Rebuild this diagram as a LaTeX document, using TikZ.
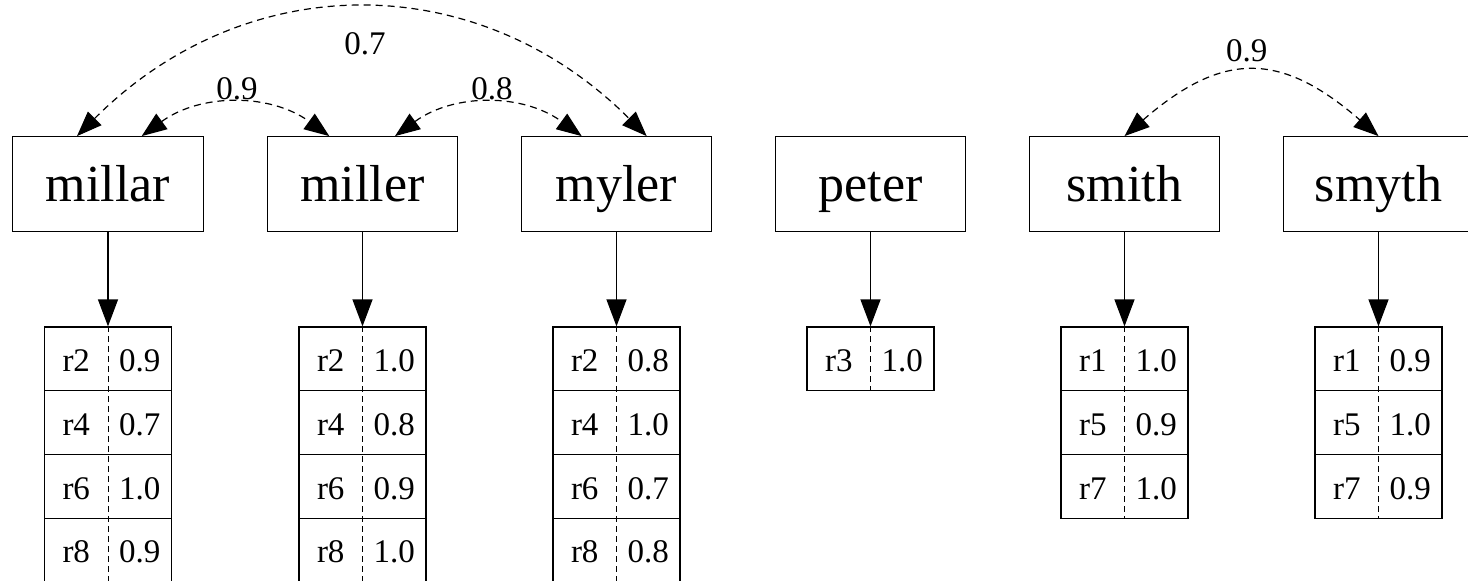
\documentclass[tikz,border=0pt]{standalone}
\usepackage{fontspec}
\setmainfont{Liberation Serif}
\usetikzlibrary{arrows.meta}
\newcommand{\rowpair}[2]{\makebox[63.5pt]{#1}\makebox[63.5pt]{#2}}

\begin{document}
\begin{tikzpicture}[x=1pt,y=-1pt,line width=1.2pt,
 word/.style={draw,minimum width=190.7pt,minimum height=95pt,inner sep=0pt,
   text height=40pt,text depth=5pt,font=\fontsize{52}{60}\selectfont},
 cell/.style={draw,minimum width=127pt,minimum height=63.7pt,inner sep=0pt,
   text height=28pt,text depth=2.3pt,font=\fontsize{33}{38}\selectfont},
 weight/.style={anchor=base,inner sep=0pt,font=\fontsize{33}{38}\selectfont},
 down/.style={-{Triangle[length=27pt,width=20pt]}},
 sim/.style={dash pattern=on 7pt off 5pt,
   {Triangle[length=25pt,width=19pt]}-{Triangle[length=25pt,width=19pt]}},
 divider/.style={line width=1pt,dash pattern=on 6pt off 4pt}]
 \useasboundingbox (0,0) rectangle (1468,581);
 \clip (0,0) rectangle (1468,581);

 % words
 \node[word] (millar) at (108,184.2) {millar};
 \node[word] (miller) at (362.5,184.2) {miller};
 \node[word] (myler) at (616.5,184.2) {myler};
 \node[word] (peter) at (870.5,184.2) {peter};
 \node[word] (smith) at (1124.5,184.2) {smith};
 \node[word] (smyth) at (1378.5,184.2) {smyth};

 % millar
 \node[cell] (millar1) at (108,358.85) {\rowpair{r2}{0.9}};
 \node[cell] (millar2) at (108,422.55) {\rowpair{r4}{0.7}};
 \node[cell] (millar3) at (108,486.25) {\rowpair{r6}{1.0}};
 \node[cell] (millar4) at (108,549.95) {\rowpair{r8}{0.9}};
 \draw[divider] (millar1.north) -- (millar4.south);
 % miller
 \node[cell] (miller1) at (362.5,358.85) {\rowpair{r2}{1.0}};
 \node[cell] (miller2) at (362.5,422.55) {\rowpair{r4}{0.8}};
 \node[cell] (miller3) at (362.5,486.25) {\rowpair{r6}{0.9}};
 \node[cell] (miller4) at (362.5,549.95) {\rowpair{r8}{1.0}};
 \draw[divider] (miller1.north) -- (miller4.south);
 % myler
 \node[cell] (myler1) at (616.5,358.85) {\rowpair{r2}{0.8}};
 \node[cell] (myler2) at (616.5,422.55) {\rowpair{r4}{1.0}};
 \node[cell] (myler3) at (616.5,486.25) {\rowpair{r6}{0.7}};
 \node[cell] (myler4) at (616.5,549.95) {\rowpair{r8}{0.8}};
 \draw[divider] (myler1.north) -- (myler4.south);
 % peter
 \node[cell] (peter1) at (870.5,358.85) {\rowpair{r3}{1.0}};
 \draw[divider] (peter1.north) -- (peter1.south);
 % smith
 \node[cell] (smith1) at (1124.5,358.85) {\rowpair{r1}{1.0}};
 \node[cell] (smith2) at (1124.5,422.55) {\rowpair{r5}{0.9}};
 \node[cell] (smith3) at (1124.5,486.25) {\rowpair{r7}{1.0}};
 \draw[divider] (smith1.north) -- (smith3.south);
 % smyth
 \node[cell] (smyth1) at (1378.5,358.85) {\rowpair{r1}{0.9}};
 \node[cell] (smyth2) at (1378.5,422.55) {\rowpair{r5}{1.0}};
 \node[cell] (smyth3) at (1378.5,486.25) {\rowpair{r7}{0.9}};
 \draw[divider] (smyth1.north) -- (smyth3.south);

 \draw[down] (millar) -- (millar1);
 \draw[down] (miller) -- (miller1);
 \draw[down] (myler) -- (myler1);
 \draw[down] (peter) -- (peter1);
 \draw[down] (smith) -- (smith1);
 \draw[down] (smyth) -- (smyth1);

 % similarities
 \draw[sim] ([xshift=33.7pt]millar.north) .. controls +(59,-43) and +(-59,-43) .. ([xshift=-33.2pt]miller.north);
 \draw[sim] ([xshift=32.5pt]miller.north) .. controls +(59,-43) and +(-59,-43) .. ([xshift=-34.8pt]myler.north);
 \draw[sim] ([xshift=-31pt]millar.north) .. controls +(169,-169) and +(-169,-169) .. ([xshift=30.2pt]myler.north);
 \draw[sim] (smith.north) .. controls +(98,-85) and +(-98,-85) .. (smyth.north);
 \node[weight] (w1) at (237,99) {0.9};
 \node[weight] (w2) at (492,99) {0.8};
 \node[weight] (w3) at (365,54) {0.7};
 \node[weight] (w4) at (1246.7,61.7) {0.9};
\end{tikzpicture}
\end{document}
